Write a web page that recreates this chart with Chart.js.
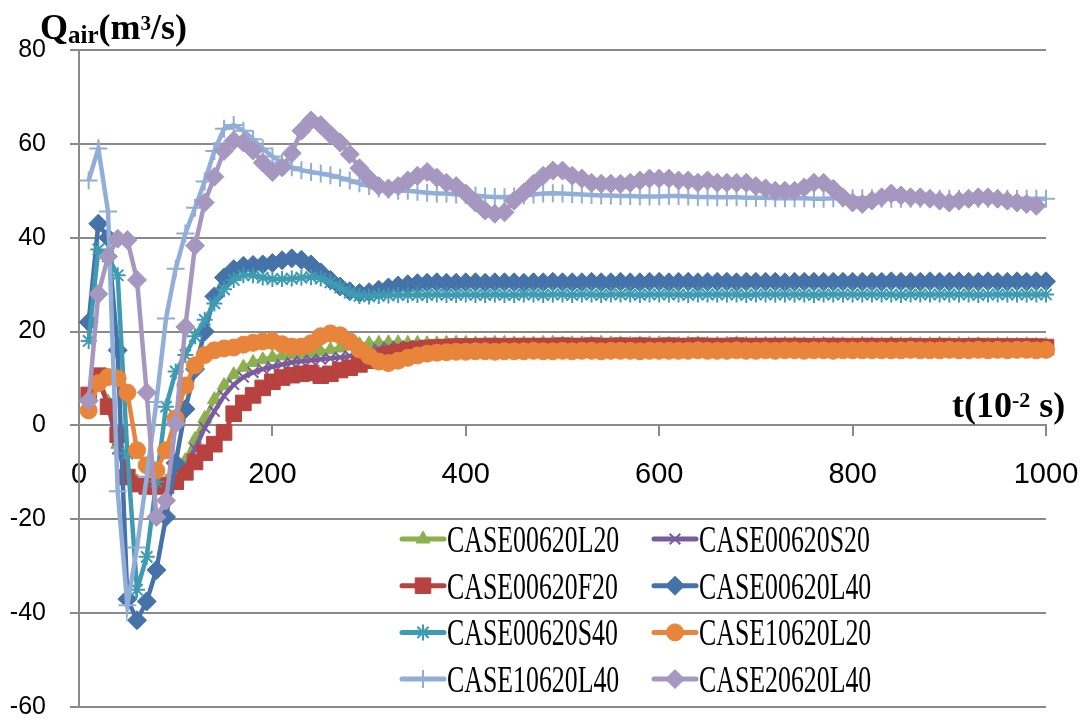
<!DOCTYPE html>
<html>
<head>
<meta charset="utf-8">
<script src="https://cdn.jsdelivr.net/npm/chart.js@4.4.0/dist/chart.umd.min.js"></script>
<style>
  html, body { margin: 0; padding: 0; background: #ffffff; }
  #wrap { position: relative; width: 1083px; height: 724px; }
</style>
</head>
<body>
<div id="wrap"><canvas id="chart"></canvas></div>
<script>
// time steps (10^-2 s)
const times = [
  10, 20, 30, 40, 50, 60, 70, 80, 90, 100,
  110, 120, 130, 140, 150, 160, 170, 180, 190, 200,
  210, 220, 230, 240, 250, 260, 270, 280, 290, 300,
  310, 320, 330, 340, 350, 360, 370, 380, 390, 400,
  410, 420, 430, 440, 450, 460, 470, 480, 490, 500,
  510, 520, 530, 540, 550, 560, 570, 580, 590, 600,
  610, 620, 630, 640, 650, 660, 670, 680, 690, 700,
  710, 720, 730, 740, 750, 760, 770, 780, 790, 800,
  810, 820, 830, 840, 850, 860, 870, 880, 890, 900,
  910, 920, 930, 940, 950, 960, 970, 980, 990, 1000
];

const seriesNames = [
  'CASE00620L20', 'CASE00620S20', 'CASE00620F20', 'CASE00620L40',
  'CASE00620S40', 'CASE10620L20', 'CASE10620L40', 'CASE20620L40'
];

const xTicks = [0, 200, 400, 600, 800, 1000];
const yTicks = [-60, -40, -20, 0, 20, 40, 60, 80];

const case00620L20 = [
  6, 10, 5, -4, -10, -12, -12.5, -12.5, -12, -10.5,
  -7.5, -3, 1.5, 5.5, 8.5, 10.8, 12.4, 13.4, 14, 14.5,
  14.8, 15, 15.2, 15.4, 15.7, 16.1, 16.5, 16.9, 17.2, 17.4,
  17.5, 17.6, 17.6, 17.5, 17.5, 17.4, 17.4, 17.5, 17.5, 17.5,
  17.4, 17.4, 17.5, 17.5, 17.4, 17.4, 17.4, 17.5, 17.5, 17.4,
  17.4, 17.4, 17.4, 17.5, 17.4, 17.4, 17.3, 17.4, 17.4, 17.4,
  17.3, 17.3, 17.4, 17.4, 17.3, 17.3, 17.3, 17.4, 17.3, 17.3,
  17.3, 17.3, 17.3, 17.3, 17.2, 17.3, 17.3, 17.3, 17.2, 17.2,
  17.3, 17.2, 17.2, 17.3, 17.2, 17.2, 17.2, 17.2, 17.3, 17.2,
  17.2, 17.2, 17.2, 17.1, 17.2, 17.2, 17.1, 17.2, 17.1, 17.1
];

const case00620S20 = [
  5.5, 9.5, 4.5, -5, -11, -13, -13.5, -13.5, -13, -12,
  -9, -5, -0.5, 3, 6.3, 8.7, 10.3, 11.3, 12, 12.5,
  13, 13.4, 13.7, 13.9, 14.1, 14.3, 14.5, 14.8, 15.3, 15.8,
  16.3, 16.6, 16.8, 16.9, 17, 17, 17.1, 17.1, 17, 17,
  17, 17.1, 17, 17, 17, 17.1, 17, 17, 17, 17,
  17, 17, 16.9, 17, 17, 17, 16.9, 17, 17, 16.9,
  17, 16.9, 16.9, 17, 16.9, 16.9, 17, 16.9, 16.9, 16.9,
  16.9, 16.9, 16.9, 16.8, 16.9, 16.9, 16.9, 16.8, 16.9, 16.9,
  16.8, 16.9, 16.9, 16.8, 16.9, 16.8, 16.9, 16.8, 16.8, 16.9,
  16.8, 16.8, 16.9, 16.8, 16.8, 16.8, 16.9, 16.8, 16.8, 16.8
];

const case00620F20 = [
  6.5, 10.6, 4, -2, -11, -12.5, -13, -13, -12.8, -12,
  -10, -7.8, -5.8, -4, -1.5, 2.5, 4.8, 6.4, 8, 9.3,
  10.2, 10.7, 11, 11.2, 10.6, 11, 11.8, 12.3, 13, 13.8,
  14.6, 15.2, 15.6, 16, 16.3, 16.5, 16.6, 16.7, 16.8, 16.8,
  16.8, 16.9, 16.9, 16.8, 16.9, 16.9, 16.9, 16.9, 16.9, 17,
  16.9, 16.9, 17, 16.9, 16.9, 17, 16.9, 17, 16.9, 16.9,
  17, 16.9, 16.9, 17, 16.9, 16.9, 16.9, 17, 16.9, 16.9,
  16.9, 16.9, 16.9, 16.9, 16.9, 16.8, 16.9, 16.9, 16.9, 16.8,
  16.9, 16.9, 16.8, 16.9, 16.8, 16.9, 16.8, 16.8, 16.9, 16.8,
  16.8, 16.8, 16.9, 16.8, 16.8, 16.8, 16.8, 16.8, 16.8, 16.7
];

const case00620L40 = [
  22, 43, 40, 16, -37, -41.5, -37.5, -30.8, -19.5, -8,
  3.5, 12, 20, 27.5, 31.5, 33.3, 34, 34.2, 34.3, 34.6,
  35.2, 35.6, 35.3, 34.3, 32.6, 31, 29.6, 28.6, 28.2, 28.4,
  28.9, 29.4, 29.8, 30.1, 30.3, 30.4, 30.5, 30.4, 30.4, 30.5,
  30.5, 30.4, 30.5, 30.5, 30.5, 30.4, 30.5, 30.5, 30.6, 30.5,
  30.5, 30.5, 30.6, 30.5, 30.5, 30.6, 30.5, 30.5, 30.6, 30.6,
  30.5, 30.6, 30.6, 30.5, 30.6, 30.6, 30.6, 30.5, 30.6, 30.6,
  30.6, 30.6, 30.5, 30.6, 30.6, 30.6, 30.6, 30.6, 30.6, 30.6,
  30.6, 30.6, 30.6, 30.7, 30.6, 30.6, 30.6, 30.7, 30.6, 30.6,
  30.7, 30.6, 30.6, 30.7, 30.6, 30.6, 30.7, 30.6, 30.7, 30.7
];

const case00620S40 = [
  18, 37.5, 36, 32, -6, -35, -28, -12, 4, 11.5,
  15, 19, 22.5, 26, 29, 31, 32, 32, 31.5, 31.2,
  31.2, 31.3, 31.5, 31.6, 31.3, 30.5, 29.4, 28.3, 27.6, 27.5,
  27.6, 27.7, 27.8, 27.8, 27.8, 27.8, 27.9, 27.8, 27.8, 27.9,
  27.8, 27.8, 27.9, 27.8, 27.8, 27.9, 27.9, 27.8, 27.9, 27.9,
  27.8, 27.9, 27.9, 27.8, 27.9, 27.9, 27.9, 27.8, 27.9, 27.9,
  27.9, 27.9, 27.8, 27.9, 27.9, 27.9, 27.9, 27.9, 27.8, 27.9,
  27.9, 27.9, 27.9, 27.9, 27.9, 27.8, 27.9, 27.9, 27.9, 27.9,
  27.9, 27.9, 27.9, 27.9, 27.8, 27.9, 27.9, 27.9, 27.9, 27.9,
  27.9, 27.9, 27.8, 27.9, 27.9, 27.9, 27.9, 27.9, 27.9, 27.9
];

const case10620L20 = [
  3.2, 9, 10.3, 10, 7, -5.3, -8.5, -9.6, -5.3, 1.5,
  8.5, 12.8, 15, 16, 16.4, 16.6, 17.2, 17.6, 17.9, 18,
  17.3, 16.8, 16.8, 17.5, 19, 19.6, 19.2, 17.9, 16.2, 14.8,
  13.6, 13.3, 13.8, 14.4, 14.9, 15.3, 15.5, 15.6, 15.7, 15.7,
  15.8, 15.8, 15.7, 15.8, 15.8, 15.8, 15.9, 15.8, 15.8, 15.9,
  15.8, 15.9, 15.9, 15.8, 15.9, 15.9, 15.9, 15.8, 15.9, 15.9,
  15.9, 15.9, 15.9, 16, 15.9, 15.9, 15.9, 16, 15.9, 15.9,
  16, 15.9, 16, 16, 15.9, 16, 16, 15.9, 16, 16,
  16, 16, 16, 16, 16, 16.1, 16, 16, 16, 16.1,
  16, 16, 16.1, 16, 16.1, 16, 16.1, 16.1, 16, 16.1
];

const case10620L40 = [
  52.2, 59, 45.6, -14, -38.3, -26, -11, 5, 22.8, 33.4,
  40.9, 46.4, 52, 58.5, 63.2, 64, 62.8, 61, 59, 57.3,
  56, 55, 54.4, 54, 53.7, 53.3, 52.8, 52.2, 51.6, 51,
  50.5, 50.2, 50, 50, 49.8, 49.6, 49.4, 49.4, 49.2, 49.1,
  49, 48.8, 48.7, 48.6, 48.8, 49, 49.2, 49.4, 49.5, 49.4,
  49.3, 49.2, 49.1, 49, 49, 48.9, 48.9, 48.8, 48.8, 48.8,
  48.9, 48.9, 48.8, 48.7, 48.7, 48.6, 48.6, 48.6, 48.5, 48.5,
  48.5, 48.4, 48.4, 48.4, 48.4, 48.3, 48.3, 48.4, 48.4, 48.4,
  48.4, 48.4, 48.3, 48.3, 48.3, 48.3, 48.3, 48.3, 48.3, 48.3,
  48.3, 48.3, 48.3, 48.3, 48.3, 48.3, 48.3, 48.3, 48.3, 48.3
];

// last sample of this case is at 990
const case20620L40 = [
  5.3, 28, 36, 39.8, 39.5, 31, 7, -19.5, -16, 0.4,
  21, 38.3, 47.5, 53, 58.5, 60.7, 60.3, 58.6, 56, 54,
  55, 58, 62.8, 65, 64, 62, 60.3, 57.8, 54.8, 52.6,
  51, 50.5, 51, 52.2, 53.2, 54, 52.8, 51.7, 51, 49.4,
  47.5, 45.8, 45.1, 45.4, 47.9, 49.6, 51.5, 53.2, 54.3, 54.3,
  53.2, 52.6, 51.7, 51.5, 51.5, 51.5, 51.7, 52.2, 52.6, 52.6,
  52.6, 52.2, 52.2, 51.7, 52.2, 51.7, 51.7, 51.7, 51.7, 51,
  50.5, 50, 50, 50, 50.7, 51.7, 51.7, 50.4, 48.6, 47.5,
  47.2, 47.9, 48.6, 49.4, 49, 48.6, 48.6, 48.3, 47.9, 47.5,
  47.9, 48.3, 48.6, 48.6, 48.3, 47.9, 47.5, 47.2, 46.8
];

const seriesValues = [
  case00620L20, case00620S20, case00620F20, case00620L40,
  case00620S40, case10620L20, case10620L40, case20620L40
];

const colors = ['#8DB04F', '#7A5C9E', '#B8423F', '#4572A8', '#3E9BB2', '#E8853A', '#92AED6', '#A597BF'];
const markers = ['triangle', 'crossRot', 'rect', 'rectRot', 'star', 'circle', 'cross', 'rectRot'];
const markerSize = [8, 7.5, 11, 9.5, 8, 8.5, 9, 9.5];
const markerBorder = [1, 2, 1, 1, 2, 1, 2, 1];

const datasets = seriesNames.map(function(name, i) {
  return {
    label: name,
    data: seriesValues[i].map(function(v, k) { return {x: times[k], y: v}; }),
    borderColor: colors[i],
    backgroundColor: colors[i],
    pointBackgroundColor: colors[i],
    pointBorderColor: colors[i],
    pointStyle: markers[i],
    pointRadius: markerSize[i],
    pointBorderWidth: markerBorder[i],
    borderWidth: 4.5,
    tension: 0,
    clip: false,
    order: seriesNames.length - i // first series at the bottom, like the original
  };
});

// axis titles and the two-column legend inside the plot
const overlay = {
  id: 'overlay',
  afterDraw(chart) {
    const ctx = chart.ctx;
    ctx.save();
    ctx.fillStyle = '#000000';
    ctx.textAlign = 'left';
    ctx.textBaseline = 'alphabetic';

    function run(parts, x, y) {
      parts.forEach(function(p) {
        ctx.font = 'bold ' + p.size + 'px "Liberation Serif"';
        ctx.fillText(p.text, x, y + (p.dy || 0));
        x += ctx.measureText(p.text).width;
      });
    }
    run([
      {text: 'Q', size: 36},
      {text: 'air', size: 25, dy: 4},
      {text: '(m', size: 36},
      {text: '3', size: 21, dy: -9},
      {text: '/s)', size: 36}
    ], 40, 39);
    run([
      {text: 't(10', size: 36},
      {text: '-2', size: 22, dy: -10},
      {text: ' s)', size: 36}
    ], 952, 417);

    chart.data.datasets.forEach(function(ds, i) {
      const col = i % 2;
      const row = Math.floor(i / 2);
      const lx = col ? 654 : 402;
      const cy = 539 + row * 46.7;
      ctx.strokeStyle = ds.borderColor;
      ctx.fillStyle = ds.borderColor;
      ctx.lineWidth = 5;
      ctx.lineCap = 'round';
      ctx.beginPath();
      ctx.moveTo(lx, cy);
      ctx.lineTo(lx + 42, cy);
      ctx.stroke();
      ctx.lineCap = 'butt';
      ctx.lineWidth = ds.pointBorderWidth;
      Chart.helpers.drawPoint(ctx, {
        pointStyle: ds.pointStyle,
        radius: ds.pointRadius,
        borderWidth: ds.pointBorderWidth,
        rotation: 0
      }, lx + 21, cy);

      ctx.save();
      ctx.fillStyle = '#000000';
      ctx.font = '38px "Liberation Serif"';
      ctx.translate(lx + 45, cy + 13);
      ctx.scale(0.68, 1);
      ctx.fillText(ds.label, 0, 0);
      ctx.restore();
    });
    ctx.restore();
  }
};

new Chart(document.getElementById('chart'), {
  type: 'line',
  data: { datasets: datasets },
  plugins: [overlay],
  options: {
    responsive: true,
    maintainAspectRatio: false,
    animation: false,
    layout: { padding: { left: 0, right: 37, top: 50, bottom: 17 } },
    plugins: {
      legend: { display: false },
      tooltip: { enabled: false }
    },
    scales: {
      x: {
        type: 'linear',
        min: 0,
        max: 1000,
        position: { y: 0 },
        afterBuildTicks: function(scale) {
          scale.ticks = xTicks.map(function(v) { return {value: v}; });
        },
        afterFit: function(scale) {
          scale.paddingLeft = 0;
          scale.paddingRight = 0;
        },
        ticks: {
          color: '#000000',
          font: { family: '"Liberation Sans"', size: 29 },
          padding: 22,
          maxRotation: 0,
          callback: function(v) { return String(v); }
        },
        grid: {
          drawOnChartArea: false,
          drawTicks: true,
          tickLength: 10,
          color: '#8a8a8a',
          lineWidth: 2
        },
        border: { color: '#8a8a8a', width: 2 }
      },
      y: {
        type: 'linear',
        min: -60,
        max: 80,
        afterBuildTicks: function(scale) {
          scale.ticks = yTicks.map(function(v) { return {value: v}; });
        },
        afterFit: function(scale) {
          scale.width = 79;
          scale.paddingTop = 0;
          scale.paddingBottom = 0;
        },
        ticks: {
          color: '#000000',
          font: { family: '"Liberation Sans"', size: 25 },
          padding: 24
        },
        grid: {
          color: '#8a8a8a',
          lineWidth: 2,
          drawTicks: true,
          tickLength: 9
        },
        border: { color: '#8a8a8a', width: 2 }
      }
    }
  }
});
</script>
</body>
</html>
